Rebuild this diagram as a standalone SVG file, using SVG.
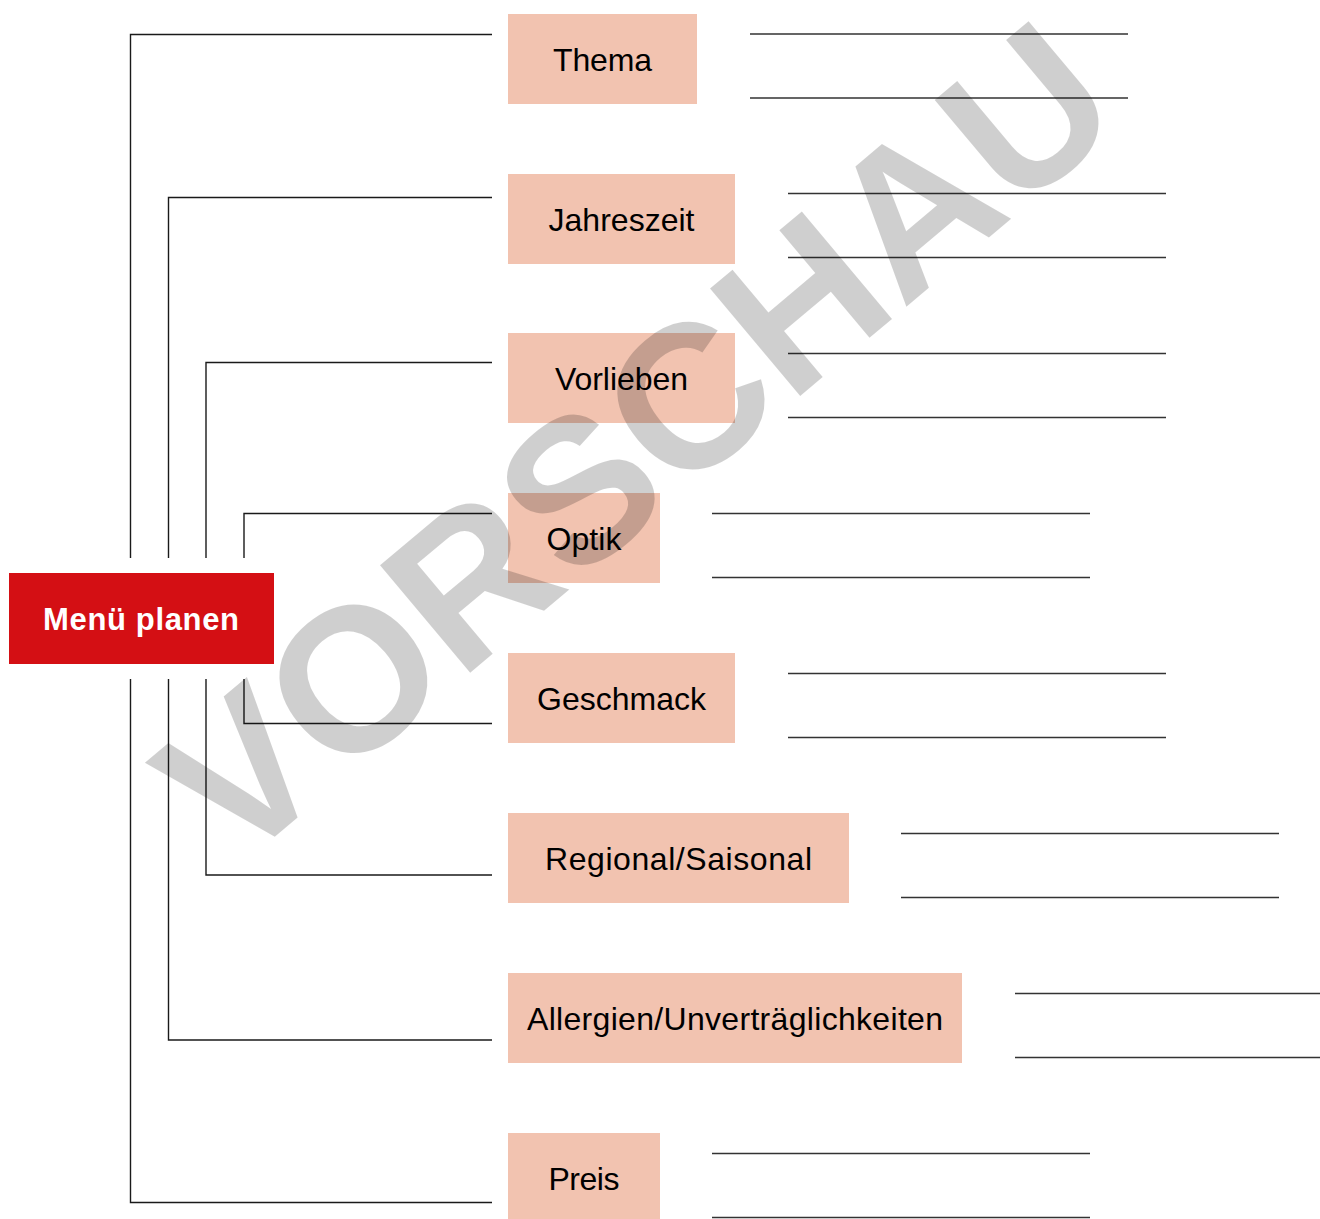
<svg xmlns="http://www.w3.org/2000/svg" width="1320" height="1219" viewBox="0 0 1320 1219">
<style>
.c{fill:none;stroke:#1a1a1a;stroke-width:1.4}
.a{fill:none;stroke:#333;stroke-width:1.6}
.b{fill:#f2c3b0}
.t{font-family:"Liberation Sans",Arial,sans-serif;font-size:32px;fill:#000;text-anchor:middle}
.wm{font-family:"Liberation Sans",Arial,sans-serif;font-weight:bold;font-size:204px;fill:#000;fill-opacity:0.19}
</style>
<rect width="1320" height="1219" fill="#fff"/>
<g id="connectors">
<polyline class="c" points="130.5,558 130.5,34.5 492,34.5"/>
<polyline class="c" points="168.5,558 168.5,197.5 492,197.5"/>
<polyline class="c" points="206,558 206,362.5 492,362.5"/>
<polyline class="c" points="244,558 244,513.5 492,513.5"/>
<polyline class="c" points="244,679 244,723.5 492,723.5"/>
<polyline class="c" points="206,679 206,875 492,875"/>
<polyline class="c" points="168.5,679 168.5,1040 492,1040"/>
<polyline class="c" points="130.5,679 130.5,1202.5 492,1202.5"/>
</g>
<g id="answer-lines">
<path class="a" d="M750 34H1128M750 98H1128"/>
<path class="a" d="M788 193.5H1166M788 257.5H1166"/>
<path class="a" d="M788 353.5H1166M788 417.5H1166"/>
<path class="a" d="M712 513.5H1090M712 577.5H1090"/>
<path class="a" d="M788 673.5H1166M788 737.5H1166"/>
<path class="a" d="M901 833.5H1279M901 897.5H1279"/>
<path class="a" d="M1015 993.5H1320M1015 1057.5H1320"/>
<path class="a" d="M712 1153.5H1090M712 1217.5H1090"/>
</g>
<g id="root">
<rect x="9" y="573" width="265" height="91" fill="#d40f14"/>
<text x="141" y="630" font-family="Liberation Sans,Arial,sans-serif" font-weight="bold" font-size="31" fill="#fff" text-anchor="middle" textLength="196">Menü planen</text>
</g>
<g id="thema"><rect class="b" x="508" y="14" width="189" height="90"/><text class="t" x="602.5" y="71" textLength="99">Thema</text></g>
<g id="jahreszeit"><rect class="b" x="508" y="174" width="227" height="90"/><text class="t" x="621.5" y="231" textLength="146">Jahreszeit</text></g>
<g id="vorlieben"><rect class="b" x="508" y="333" width="227" height="90"/><text class="t" x="621.5" y="390" textLength="133">Vorlieben</text></g>
<g id="optik"><rect class="b" x="508" y="493" width="152" height="90"/><text class="t" x="584" y="550" textLength="75">Optik</text></g>
<g id="geschmack"><rect class="b" x="508" y="653" width="227" height="90"/><text class="t" x="621.5" y="710" textLength="169">Geschmack</text></g>
<g id="regional"><rect class="b" x="508" y="813" width="341" height="90"/><text class="t" x="678.5" y="870" textLength="267">Regional/Saisonal</text></g>
<g id="allergien"><rect class="b" x="508" y="973" width="454" height="90"/><text class="t" x="735" y="1030" textLength="416">Allergien/Unverträglichkeiten</text></g>
<g id="preis"><rect class="b" x="508" y="1133" width="152" height="90"/><text class="t" x="584" y="1190" textLength="71">Preis</text></g>
<text class="wm" transform="translate(234,871) rotate(-40)" x="0" y="0">VORSCHAU</text>
</svg>
